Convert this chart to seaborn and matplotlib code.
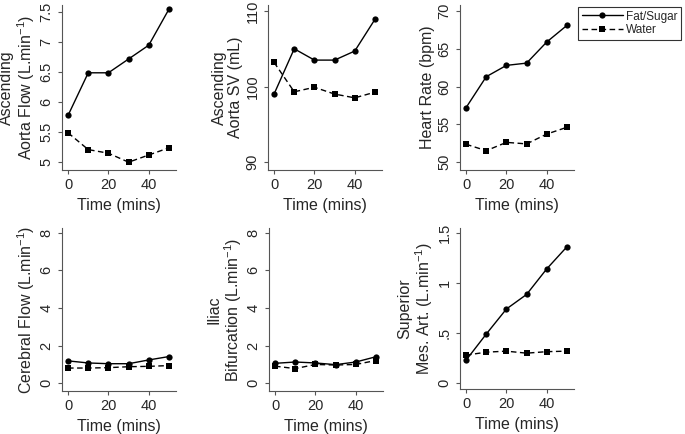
import numpy as np
import pandas as pd
import seaborn as sns
import matplotlib
matplotlib.use("Agg")
import matplotlib.pyplot as plt

sns.set_style("ticks")
plt.rcParams['font.family'] = ['Liberation Sans', 'DejaVu Sans']
plt.rcParams['mathtext.fontset'] = 'custom'
plt.rcParams['mathtext.rm'] = 'Liberation Sans'
plt.rcParams['mathtext.it'] = 'Liberation Sans'

time = [0, 10, 20, 30, 40, 50]
groups = ["Fat/Sugar", "Water"]

aorta_flow_fat = [5.78, 6.49, 6.49, 6.72, 6.95, 7.55]
aorta_flow_water = [5.49, 5.21, 5.15, 5.00, 5.12, 5.24]
aorta_sv_fat = [99.0, 105.0, 103.5, 103.5, 104.7, 108.9]
aorta_sv_water = [103.2, 99.3, 99.9, 99.0, 98.5, 99.25]
hr_fat = [57.2, 61.3, 62.8, 63.1, 65.9, 68.1]
hr_water = [52.35, 51.5, 52.6, 52.4, 53.7, 54.6]
cerebral_fat = [1.19, 1.08, 1.04, 1.04, 1.24, 1.42]
cerebral_water = [0.81, 0.81, 0.83, 0.88, 0.90, 0.94]
iliac_fat = [1.06, 1.13, 1.08, 0.99, 1.13, 1.41]
iliac_water = [0.91, 0.78, 1.00, 0.97, 1.00, 1.21]
sma_fat = [0.23, 0.49, 0.74, 0.885, 1.14, 1.36]
sma_water = [0.28, 0.31, 0.32, 0.30, 0.315, 0.32]

ylabels = ["Ascending\nAorta Flow (L.min$^{-1}$)", "Ascending\nAorta SV (mL)", "Heart Rate (bpm)",
           "Cerebral Flow (L.min$^{-1}$)", "Iliac\nBifurcation (L.min$^{-1}$)", "Superior\nMes. Art. (L.min$^{-1}$)"]
yticks = [[5, 5.5, 6, 6.5, 7, 7.5], [90, 100, 110], [50, 55, 60, 65, 70],
          [0, 2, 4, 6, 8], [0, 2, 4, 6, 8], [0, 0.5, 1, 1.5]]
yticklabels = [["5", "5.5", "6", "6.5", "7", "7.5"], ["90", "100", "110"], ["50", "55", "60", "65", "70"],
               ["0", "2", "4", "6", "8"], ["0", "2", "4", "6", "8"], ["0", ".5", "1", "1.5"]]
xticks = [0, 20, 40]

series = [(aorta_flow_fat, aorta_flow_water), (aorta_sv_fat, aorta_sv_water), (hr_fat, hr_water),
          (cerebral_fat, cerebral_water), (iliac_fat, iliac_water), (sma_fat, sma_water)]

ylims = [(4.87, 7.62), (88.94, 110.8), (48.94, 70.8), (-0.41, 8.25), (-0.41, 8.25), (-0.057, 1.547)]

W, H = 685, 434
fig = plt.figure(figsize=(W / 100, H / 100), dpi=100)
lefts = [62, 268, 460, 62, 269, 460]
tops = [5, 5, 5, 228, 228, 228]
bottoms = [170, 170, 170, 391, 391, 389]
width = 114

for i in range(6):
    ax = fig.add_axes([lefts[i] / W, 1 - bottoms[i] / H, width / W, (bottoms[i] - tops[i]) / H])
    fat, water = series[i]
    df = pd.DataFrame({
        "Time": time + time,
        "value": list(fat) + list(water),
        "group": [groups[0]] * len(time) + [groups[1]] * len(time),
    })
    sns.lineplot(data=df, x="Time", y="value", hue="group", style="group",
                 palette=["black", "black"], markers=["o", "s"], dashes=[(None, None), (4, 2.5)],
                 markersize=4.5, markeredgewidth=0, linewidth=1.0, ax=ax, legend=(i == 2))
    ax.set_xlim(-3, 53.5)
    ax.set_ylim(*ylims[i])
    ax.set_xticks(xticks)
    ax.set_yticks(yticks[i])
    ax.set_yticklabels(yticklabels[i], rotation=90, va="center")
    ax.set_xlabel("Time (mins)", fontsize=11.5, labelpad=4)
    ax.set_ylabel(ylabels[i], fontsize=11.5, labelpad=2, linespacing=1.05)
    ax.tick_params(axis="both", labelsize=10.5, length=3, width=0.8, color="#555555", pad=3)
    for s in ["left", "bottom"]:
        ax.spines[s].set_color("#555555")
        ax.spines[s].set_linewidth(0.8)
    sns.despine(ax=ax)
    if i == 2:
        handles, labels = ax.get_legend_handles_labels()
        ax.get_legend().remove()
        leg = fig.legend(handles, labels, loc="upper left",
                         bbox_to_anchor=(578 / W, 1 - 7 / H), fontsize=8.5,
                         frameon=True, fancybox=False, edgecolor="black",
                         handlelength=3.5, borderpad=0.3, labelspacing=0.15,
                         handletextpad=0.3, borderaxespad=0)
        leg.get_frame().set_linewidth(0.8)

fig.savefig("out.png", dpi=100)
